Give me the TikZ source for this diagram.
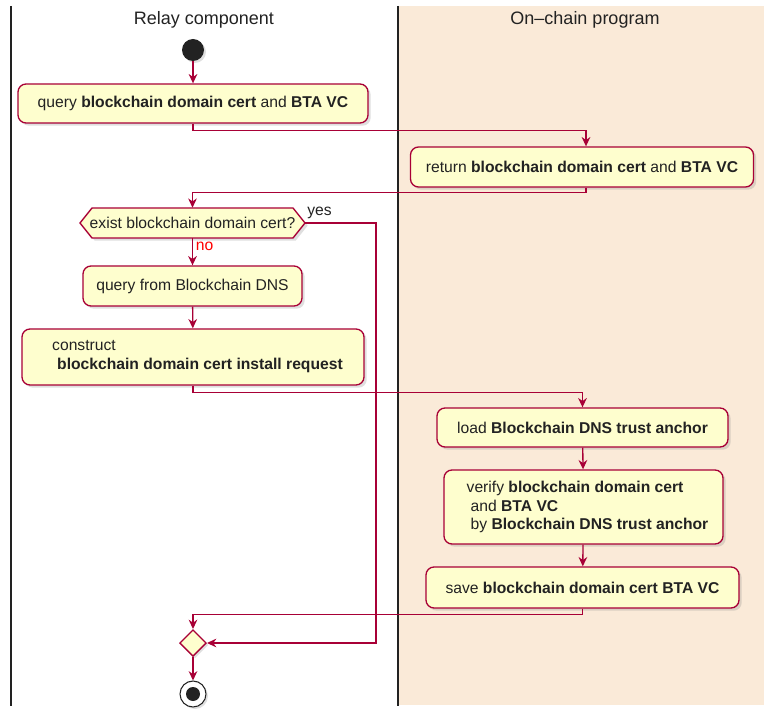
\documentclass[tikz,border=0pt]{standalone}
\usepackage{fontspec}
\setmainfont{Liberation Sans}
\usetikzlibrary{shapes.geometric,shadows,arrows.meta}

\definecolor{flow}{HTML}{A80036}
\definecolor{actfill}{HTML}{FEFECE}
\definecolor{lanebg}{HTML}{FAEAD8}
\definecolor{ink}{HTML}{222222}

\tikzset{
  act/.style={draw=flow, fill=actfill, line width=1pt, rounded corners=6pt,
    inner sep=0pt, text=ink, font=\fontsize{11.75pt}{14pt}\selectfont,
    drop shadow={shadow xshift=2pt, shadow yshift=-2pt, opacity=0.25}},
  acttext/.style={inner sep=0pt, text=ink, align=left,
    font=\fontsize{11.75pt}{14pt}\selectfont},
  flowline/.style={draw=flow, line width=1pt, -{Stealth[length=7pt,width=6.5pt]}},
  lanetitle/.style={font=\fontsize{13.5pt}{16pt}\selectfont, text=ink},
  laneline/.style={draw=ink, line width=1.8pt},
  guard/.style={font=\fontsize{11.75pt}{13pt}\selectfont, inner sep=0pt}
}

\begin{document}
\begin{tikzpicture}[x=0.75pt, y=-0.75pt]
\useasboundingbox (0,0) rectangle (764,709);

% swimlanes
\fill[lanebg] (398,6) rectangle (764,705);
\draw[laneline] (11,6) -- (11,706);
\draw[laneline] (398,6) -- (398,706);
\node[lanetitle] (laneA) at (204,20) {Relay component};
\node[lanetitle] (laneB) at (585,20) {On–chain program};

% start
\node[circle, fill=ink, minimum size=16.5pt, inner sep=0pt,
  drop shadow={shadow xshift=1.5pt, shadow yshift=-1.5pt, opacity=0.25}] (start) at (193,50) {};

% relay: query
\node[act, minimum width=262.5pt, minimum height=29.25pt] (query) at (193,103.5)
  {query \textbf{blockchain domain cert} and \textbf{BTA VC}};

% on-chain: return
\node[act, minimum width=257.25pt, minimum height=30pt] (ret) at (582,167)
  {return \textbf{blockchain domain cert} and \textbf{BTA VC}};

% decision hexagon
\path[draw=flow, fill=actfill, line width=1pt,
  drop shadow={shadow xshift=2pt, shadow yshift=-2pt, opacity=0.25}]
  (80,223) -- (92,208) -- (293,208) -- (305,223) -- (293,238) -- (92,238) -- cycle;
\node[font=\fontsize{11.75pt}{14pt}\selectfont, text=ink, minimum width=168.75pt,
  minimum height=22.5pt, inner sep=0pt] (exist) at (192.5,223) {exist blockchain domain cert?};

% query DNS
\node[act, minimum width=164.25pt, minimum height=30pt] (dns) at (192.5,286)
  {query from Blockchain DNS};

% construct request (box, then its left-aligned text)
\node[act, minimum width=256.5pt, minimum height=42pt] (construct) at (193,357) {};
\node[acttext] (constructtxt) at (197.5,356.5)
  {construct\\ \hspace*{3.75pt}\textbf{blockchain domain cert install request}};

% load trust anchor
\node[act, minimum width=218.25pt, minimum height=29.25pt] (load) at (582.5,427.5)
  {load \textbf{Blockchain DNS trust anchor}};

% verify (box, then its left-aligned text)
\node[act, minimum width=209.25pt, minimum height=55.5pt] (verify) at (583.5,507) {};
\node[acttext] (verifytxt) at (587.5,507)
  {verify \textbf{blockchain domain cert}\\ \hspace*{3pt}and \textbf{BTA VC}\\ \hspace*{3pt}by \textbf{Blockchain DNS trust anchor}};

% save
\node[act, minimum width=234.75pt, minimum height=30.75pt] (save) at (582.5,587.5)
  {save \textbf{blockchain domain cert BTA VC}};

% merge
\node[diamond, draw=flow, fill=actfill, line width=1pt, minimum width=20pt,
  minimum height=20pt, inner sep=0pt,
  drop shadow={shadow xshift=1.5pt, shadow yshift=-1.5pt, opacity=0.25}] (merge) at (193,643) {};

% end
\node[circle, draw=ink, fill=white, line width=0.8pt, minimum size=19.5pt, inner sep=0pt,
  drop shadow={shadow xshift=1.5pt, shadow yshift=-1.5pt, opacity=0.25}] (stop) at (193,694) {};
\node[circle, fill=ink, minimum size=10.5pt, inner sep=0pt] (stopdot) at (stop.center) {};

% connectors
\draw[flowline] (start) -- (query);
\draw[flowline] (query.south) -- ++(0,7) -| ([xshift=3pt]ret.north);
\draw[flowline] ([xshift=3pt]ret.south) -- ++(0,5) -| (exist.north);
\draw[flowline] (exist.south) -- node[guard, text=red, right, pos=0.3, xshift=2pt] (nolbl) {no} (dns.north);
\draw[flowline] (dns) -- (construct);
\draw[flowline] (construct.south) -- ++(0,7) -| (load.north);
\draw[flowline] (load) -- (verify);
\draw[flowline] (verify) -- (save);
\draw[flowline] (save.south) -- ++(0,6) -| (merge.north);
\draw[flowline] (exist.east) -- (376,223) |- (merge.east);
\node[guard, anchor=south west, text=ink] (yeslbl) at (307,219) {yes};
\draw[flowline] (merge) -- (stop);

\end{tikzpicture}
\end{document}
